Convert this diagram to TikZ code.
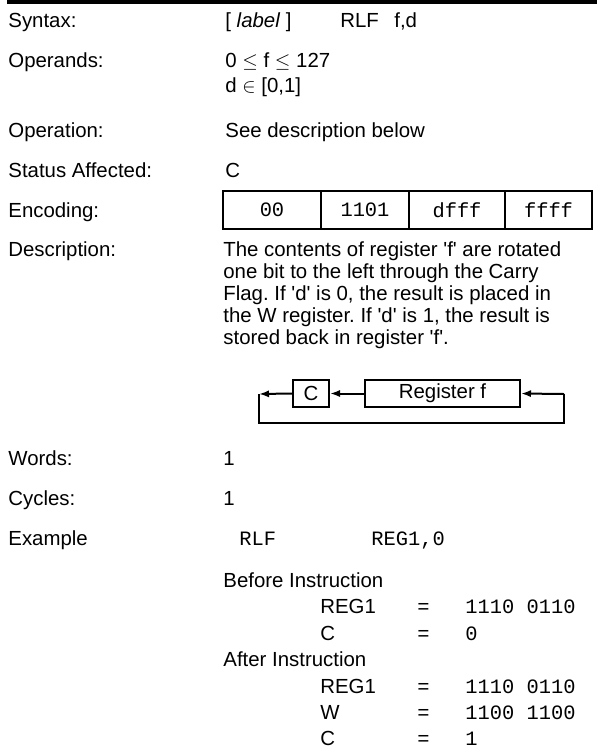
\documentclass[tikz,border=0pt]{standalone}
\usepackage{fontspec}
\newfontfamily\helv{Liberation Sans}
\newfontfamily\cour{Liberation Mono}
\usepackage{tikz}
\usetikzlibrary{arrows.meta,%
                shapes,positioning}
\tikzset{
  lbl/.style={anchor=base west,inner sep=0pt,font=\fontsize{10.2}{12}\helv},
  code/.style={anchor=base west,inner sep=0pt,font=\fontsize{10.2}{12}\cour},
  cell/.style={draw,line width=0.9pt,minimum height=19pt,inner sep=0pt,font=\fontsize{10.2}{12}\cour},
  regbox/.style={draw,line width=1pt,minimum height=13.5pt,inner sep=0pt,font=\fontsize{10.2}{12}\helv},
  loop/.style={line width=1pt},
  tip/.style={-{Latex[length=5pt,width=3.6pt]}}
}
\newcommand{\sq}[1]{\textquotesingle#1\textquotesingle}
\frenchspacing
\begin{document}
\begin{tikzpicture}[x=0.5pt,y=-0.5pt]
\useasboundingbox (0,0) rectangle (597,750);
\fill (7,0) rectangle (597,4);

\node[lbl] (syntax) at (8,27) {Syntax:};
\node[lbl] (operands) at (8,67) {Operands:};
\node[lbl] (operation) at (8,137) {Operation:};
\node[lbl] (status) at (8,177) {Status Affected:};
\node[lbl] (encoding) at (8,217) {Encoding:};
\node[lbl] (descr) at (8,256) {Description:};
\node[lbl] (words) at (8,465) {Words:};
\node[lbl] (cycles) at (8,505) {Cycles:};
\node[lbl] (example) at (8,545) {Example};

\node[lbl] (synlabel) at (225,27) {[ \textit{label} ]};
\node[lbl] (synop) at (340,27) {RLF};
\node[lbl] (synarg) at (394,27) {f,d};
\node[lbl] (opf) at (225,67) {0 $\le$ f $\le$ 127};
\node[lbl] (opd) at (225,92) {d $\in$ [0,1]};
\node[lbl] (opdesc) at (225,137) {See description below};
\node[lbl] (flags) at (225,177) {C};

\node[cell,minimum width=49pt] (enca) at (272,210) {00};
\node[cell,minimum width=44pt] (encb) at (365,210) {1101};
\node[cell,minimum width=48pt] (encc) at (457,210) {dfff};
\node[cell,minimum width=43.5pt] (encd) at (548.5,210) {ffff};

\node[lbl] (desca) at (223,256) {The contents of register \sq{f} are rotated};
\node[lbl] (descb) at (223,278) {one bit to the left through the Carry};
\node[lbl] (descc) at (223,300) {Flag. If \sq{d} is 0, the result is placed in};
\node[lbl] (descd) at (223,322) {the W register. If \sq{d} is 1, the result is};
\node[lbl] (desce) at (223,344) {stored back in register \sq{f}.};

\node[regbox,minimum width=18pt] (carry) at (311,393.5) {C};
\node[regbox,minimum width=77.5pt] (regf) at (442.5,393.5) {Register f};
\coordinate (rin) at (564,394);
\coordinate (lout) at (259,394);
\coordinate (lbot) at (259,423);
\coordinate (rbot) at (564,423);
\draw[loop,tip] (rin) -- (regf.east);
\draw[loop,tip] (regf.west) -- (carry.east);
\draw[loop,tip] (carry.west) -- (lout);
\draw[loop] (lout) -- (lbot) -- (rbot) -- (rin);

\node[lbl] (nwords) at (223,465) {1};
\node[lbl] (ncycles) at (223,505) {1};
\node[code] (exop) at (239,545) {RLF};
\node[code] (exarg) at (371,545) {REG1,0};

\node[lbl] (before) at (223,587) {Before Instruction};
\node[lbl] (breg) at (320,613) {REG1};
\node[code] (bregeq) at (417,613) {=};
\node[code] (bregval) at (465,613) {1110 0110};
\node[lbl] (bc) at (320,640) {C};
\node[code] (bceq) at (417,640) {=};
\node[code] (bcval) at (465,640) {0};
\node[lbl] (after) at (223,666) {After Instruction};
\node[lbl] (areg) at (320,693) {REG1};
\node[code] (aregeq) at (417,693) {=};
\node[code] (aregval) at (465,693) {1110 0110};
\node[lbl] (aw) at (320,719) {W};
\node[code] (aweq) at (417,719) {=};
\node[code] (awval) at (465,719) {1100 1100};
\node[lbl] (ac) at (320,745) {C};
\node[code] (aceq) at (417,745) {=};
\node[code] (acval) at (465,745) {1};
\end{tikzpicture}
\end{document}
